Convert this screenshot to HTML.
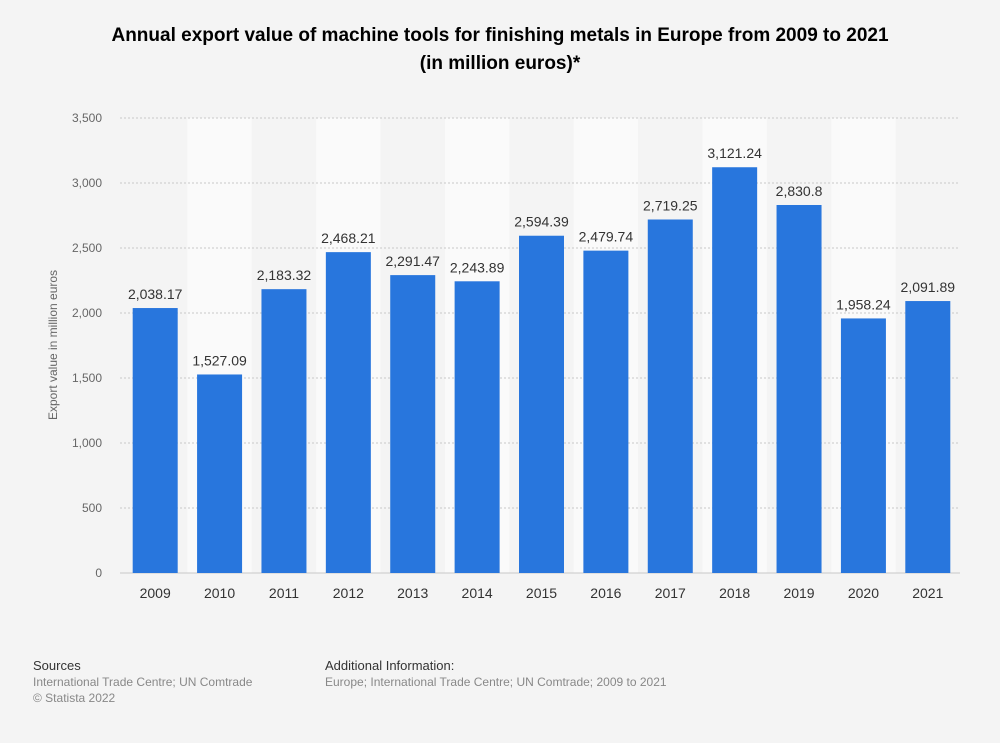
<!DOCTYPE html>
<html><head><meta charset="utf-8"><style>
body{margin:0;background:#f4f4f4;font-family:"Liberation Sans",Arial,sans-serif;}
#wrap{position:relative;width:1000px;height:743px;background:#f4f4f4;}
h1{position:absolute;left:0;top:22px;width:1000px;margin:0;text-align:center;font-size:19px;line-height:28px;color:#000;font-weight:bold;}
.foot{position:absolute;font-size:12px;color:#888;line-height:16px;}
.foot b{color:#333;font-weight:normal;font-size:13px;}
</style></head><body>
<div id="wrap">
<h1>Annual export value of machine tools for finishing metals in Europe from 2009 to 2021<br>(in million euros)*</h1>
<svg id="chart" width="1000" height="743" style="position:absolute;left:0;top:0"></svg>
<div class="foot" style="left:33px;top:658px"><b>Sources</b><br>International Trade Centre; UN Comtrade<br>© Statista 2022</div>
<div class="foot" style="left:325px;top:658px"><b>Additional Information:</b><br>Europe; International Trade Centre; UN Comtrade; 2009 to 2021</div>
</div>
<script>
const categories=["2009","2010","2011","2012","2013","2014","2015","2016","2017","2018","2019","2020","2021"];
const values=[2038.17,1527.09,2183.32,2468.21,2291.47,2243.89,2594.39,2479.74,2719.25,3121.24,2830.8,1958.24,2091.89];
const valueLabels=["2,038.17","1,527.09","2,183.32","2,468.21","2,291.47","2,243.89","2,594.39","2,479.74","2,719.25","3,121.24","2,830.8","1,958.24","2,091.89"];
const ticks=[0,500,1000,1500,2000,2500,3000,3500];
const tickLabels=["0","500","1,000","1,500","2,000","2,500","3,000","3,500"];
const svg=document.getElementById('chart');const NS='http://www.w3.org/2000/svg';
const L=123,R=960,T=118,B=573,maxV=3500;
const band=(R-L)/categories.length,bw=45;
const y=v=>B-(v/maxV)*(B-T);
const x=i=>L+band*i+band/2;
function mk(t,a){const e=document.createElementNS(NS,t);for(const k in a)e.setAttribute(k,a[k]);svg.appendChild(e);return e;}
categories.forEach((c,i)=>{if(i%2==1){const s=mk('rect',{x:L+band*i,y:T,width:band,height:B-T,fill:'#fafafa'});

}});
ticks.forEach((t,i)=>{const l=mk('line',{x1:120,x2:R,y1:y(t),y2:y(t),stroke:'#c8c8c8','stroke-dasharray':t==0?'':'2,2','stroke-width':1});


const tx=mk('text',{x:102,y:y(t)+4,'text-anchor':'end','font-size':12,fill:'#666'});tx.textContent=tickLabels[i];

});
categories.forEach((c,i)=>{const r=mk('rect',{x:x(i)-bw/2,y:y(values[i]),width:bw,height:B-y(values[i]),fill:'#2876dd'});


const v=mk('text',{x:x(i),y:y(values[i])-9,'text-anchor':'middle','font-size':14,fill:'#333'});v.textContent=valueLabels[i];


const xl=mk('text',{x:x(i),y:598,'text-anchor':'middle','font-size':14,fill:'#333'});xl.textContent=c;

});
const yt=mk('text',{x:0,y:0,'text-anchor':'middle','font-size':12,fill:'#666',transform:'translate(57,345) rotate(-90)'});yt.textContent='Export value in million euros';


</script>
</body></html>
